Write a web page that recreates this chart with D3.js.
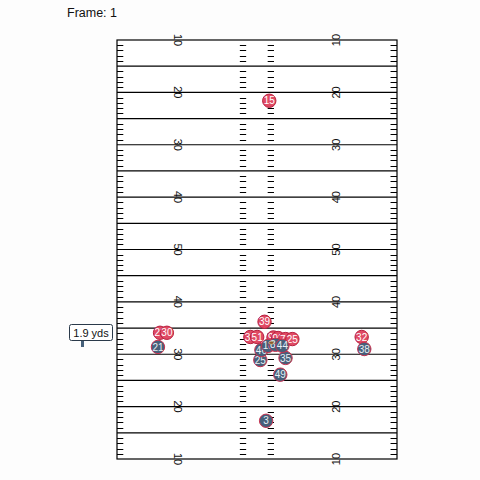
<!DOCTYPE html>
<html><head><meta charset="utf-8">
<script src="https://cdn.jsdelivr.net/npm/d3@7"></script>
<style>body{margin:0;background:#fdfdfd;}svg{display:block;font-family:"Liberation Sans",Arial,sans-serif;}</style>
</head><body><svg id="c" width="480" height="480"></svg>
<script>
const frameLabel = "Frame: 1";
const numberYards = [10, 20, 30, 40, 50, 60, 70, 80, 90];
const numberLabels = ["10", "20", "30", "40", "50", "40", "30", "20", "10"];
// red team
const redNums = ["15", "20", "30", "39", "31", "51", "96", "98", "72", "25", "32"];
const redX = [29.0, 8.2, 9.5, 28.1, 25.4, 26.7, 29.8, 30.7, 32.1, 33.4, 46.6];
const redY = [21.6, 65.9, 65.9, 63.8, 66.7, 66.7, 66.8, 66.9, 67.1, 67.1, 66.7];
// blue team
const blueNums = ["21", "38", "3", "49", "25", "35", "46", "18", "84", "44"];
const blueX = [7.8, 47.1, 28.4, 31.1, 27.3, 32.1, 27.5, 28.8, 30.2, 31.5];
const blueY = [68.6, 69.0, 82.7, 73.9, 71.1, 70.7, 69.2, 68.4, 68.2, 68.4];
const ballX = [29.4], ballY = [67.8];
const distLabel = "1.9 yds";

const svg = d3.select("#c");
const x = d3.scaleLinear().domain([0, 53.33]).range([117, 397]);
const y = d3.scaleLinear().domain([10, 90]).range([40, 459]);

svg.append("text").attr("x", 67).attr("y", 17).attr("font-size", 12.5).attr("fill", "#111").text(frameLabel);

const g = svg.append("g");
g.append("rect").attr("x", x(0)).attr("y", y(10)).attr("width", x(53.33) - x(0)).attr("height", y(90) - y(10))
  .attr("fill", "#fff").attr("stroke", "#000").attr("stroke-width", 1.2);

const fiveLines = d3.range(15, 90, 5);
g.selectAll("line.yl").data(fiveLines).join("line")
  .attr("x1", x(0)).attr("x2", x(53.33)).attr("y1", d => y(d)).attr("y2", d => y(d))
  .attr("stroke", "#000").attr("stroke-width", 1.2);

const ones = d3.range(11, 90).filter(d => d % 5 !== 0);
const hashes = [[0, 1.2], [23.4, 24.6], [28.7, 29.9], [52.1, 53.33]];
hashes.forEach(h => {
  g.selectAll(null).data(ones).join("line")
    .attr("x1", x(h[0])).attr("x2", x(h[1]))
    .attr("y1", d => Math.round(y(d)) + 0.5).attr("y2", d => Math.round(y(d)) + 0.5)
    .attr("stroke", "#000").attr("stroke-width", 1);
});

numberYards.forEach((v, i) => {
  g.append("text").attr("transform", `translate(${x(11.6)},${y(v)}) rotate(90)`)
    .attr("text-anchor", "middle").attr("dy", "0.35em").attr("font-size", 11).attr("fill", "#111").text(numberLabels[i]);
  g.append("text").attr("transform", `translate(${x(53.33 - 11.6)},${y(v)}) rotate(-90)`)
    .attr("text-anchor", "middle").attr("dy", "0.35em").attr("font-size", 11).attr("fill", "#111").text(numberLabels[i]);
});

function drawTeam(nums, xs, ys, fill, stroke, tc) {
  const gg = svg.append("g");
  nums.forEach((n, i) => {
    const p = gg.append("g").attr("transform", `translate(${x(xs[i])},${y(ys[i])})`);
    p.append("circle").attr("r", 6.7).attr("fill", fill).attr("stroke", stroke).attr("stroke-width", 1);
    p.append("text").attr("text-anchor", "middle").attr("dy", "0.36em").attr("font-size", 10).attr("fill", tc).text(n);
  });
}
drawTeam(redNums, redX, redY, "#e04a64", "#b8203f", "#ffffff");
drawTeam(blueNums, blueX, blueY, "#46607a", "#c8304f", "#e8eef5");

svg.selectAll("ellipse.ball").data(ballX).join("ellipse")
  .attr("cx", (d, i) => x(d)).attr("cy", (d, i) => y(ballY[i])).attr("rx", 2.5).attr("ry", 1.6)
  .attr("fill", "#8b5a2b").attr("stroke", "#e8d8a0").attr("stroke-width", 0.6);

// distance annotation
const ann = svg.append("g");
ann.append("rect").attr("x", 69.5).attr("y", 324.5).attr("width", 43).attr("height", 16).attr("rx", 2)
  .attr("fill", "#fff").attr("stroke", "#2a3a4a").attr("stroke-width", 1);
ann.append("text").attr("x", 91).attr("y", 336.5).attr("text-anchor", "middle").attr("font-size", 11).attr("fill", "#111").text(distLabel);
ann.append("rect").attr("x", 81).attr("y", 341).attr("width", 3).attr("height", 6).attr("fill", "#46607a");
</script></body></html>
